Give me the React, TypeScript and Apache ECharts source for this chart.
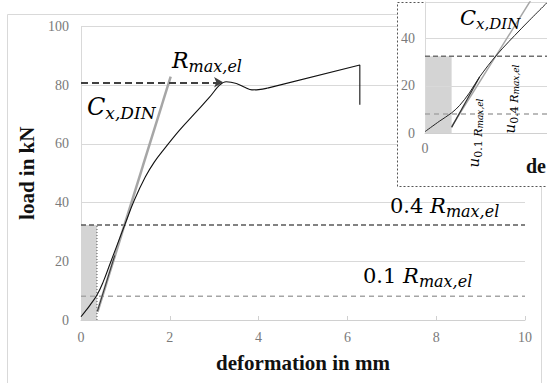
import React, { useEffect, useRef } from "react";
import * as echarts from "echarts";

// ---------- data ----------
const xTicksMain = [0, 2, 4, 6, 8, 10];
const yTicksMain = [0, 20, 40, 60, 80, 100];

const curveX = [0, 0.1, 0.2, 0.36, 0.5, 0.65, 0.8, 1.0, 1.2, 1.45, 1.65, 1.85, 2.22, 2.6, 2.9, 3.12, 3.27, 3.5, 3.7, 3.85, 4.0, 4.2, 6.28, 6.28];
const curveY = [1.1, 3, 5, 8.5, 13, 19, 25, 33, 40.8, 48.8, 53.8, 57.8, 64.7, 71, 76, 80, 81.2, 80.6, 79.2, 78.4, 78.5, 79, 86.9, 73.3];
const SMOOTH_END = 21; // index where the straight tail starts

const stiffLineX = [0.37, 2.02];
const stiffLineY = [2.8, 82.9];
const secantX = [0.37, 0.76];
const secantY = [3, 22];

const R_MAX = 81;
const R_04 = 32.4;
const R_01 = 8.1;
const U_RECT = 0.36;
const RMAX_ARROW_END = 3.2;

const insetCurveX = [0, 0.2, 0.36, 0.47, 0.6, 0.74, 0.97, 1.3, 1.65];
const insetCurveY = [0.7, 5.2, 8.6, 11.8, 17, 23.8, 33, 44, 55];
const insetStiffX = [0.36, 1.45];
const insetStiffY = [2.8, 57];
const insetSecantX = [0.36, 0.74];
const insetSecantY = [2.5, 23.8];
const U_01 = 0.46;
const U_04 = 0.96;
const U_01_LOW = -9;
const U_04_LOW = -3.5;

const zip = (xs: number[], ys: number[]) => xs.map((x, i) => [x, ys[i]]);

const serif = "Liberation Serif";
const mathFont = "DejaVu Serif";

function mathRich(big: number, sub: number) {
  return {
    n: { fontFamily: mathFont, fontSize: big, lineHeight: big + 6, color: "#111" },
    i: { fontFamily: mathFont, fontStyle: "italic", fontSize: big, lineHeight: big + 6, color: "#111" },
    s: { fontFamily: mathFont, fontStyle: "italic", fontSize: sub, lineHeight: sub - 4, verticalAlign: "bottom", color: "#111" },
  };
}

const uRich = {
  u: { fontFamily: mathFont, fontStyle: "italic", fontSize: 15, lineHeight: 20, color: "#111" },
  a: { fontFamily: mathFont, fontSize: 11, lineHeight: 9, verticalAlign: "bottom", color: "#111" },
  b: { fontFamily: mathFont, fontStyle: "italic", fontSize: 11, lineHeight: 9, verticalAlign: "bottom", color: "#111" },
  c: { fontFamily: mathFont, fontStyle: "italic", fontSize: 9, lineHeight: 4, verticalAlign: "bottom", color: "#111" },
};

export default function App() {
  const ref = useRef<HTMLDivElement>(null);
  useEffect(() => {
    if (!ref.current) return;
    const chart = echarts.init(ref.current, undefined, { renderer: "svg" });
    const tickLabel = { fontFamily: serif, fontSize: 14, color: "#7a7a7a" };
    const curvePts = zip(curveX, curveY);
    const option: any = {
      animation: false,
      backgroundColor: "#fff",
      grid: [
        { left: 81, right: 22, top: 26.5, bottom: 63 },
        { left: 425, right: 0, top: 2, bottom: 249.7 },
      ],
      xAxis: [
        {
          type: "value", gridIndex: 0, min: xTicksMain[0], max: xTicksMain[xTicksMain.length - 1], interval: 2,
          axisLine: { show: true, lineStyle: { color: "#d0d0d0" } },
          axisTick: { show: true, inside: true, length: 4, lineStyle: { color: "#d0d0d0" } },
          splitLine: { show: false },
          axisLabel: { ...tickLabel, margin: 10 },
          name: "deformation in mm", nameLocation: "middle", nameGap: 32,
          nameTextStyle: { fontFamily: serif, fontWeight: "bold", fontSize: 21, color: "#111" },
          z: 0,
        },
        {
          type: "value", gridIndex: 1, min: 0, max: 1.65, interval: 2,
          axisLine: { show: true, lineStyle: { color: "#d0d0d0" } },
          axisTick: { show: false },
          splitLine: { show: false },
          axisLabel: { ...tickLabel, margin: 8, showMaxLabel: false },
          z: 2,
        },
      ],
      yAxis: [
        {
          type: "value", gridIndex: 0, min: yTicksMain[0], max: yTicksMain[yTicksMain.length - 1], interval: 20,
          axisLine: { show: true, lineStyle: { color: "#d9d9d9" } },
          axisTick: { show: false },
          splitLine: { show: true, lineStyle: { color: "#d9d9d9" } },
          axisLabel: { ...tickLabel, margin: 12 },
          name: "load in kN", nameLocation: "middle", nameGap: 36,
          nameTextStyle: { fontFamily: serif, fontWeight: "bold", fontSize: 21, color: "#111" },
          z: 0,
        },
        {
          type: "value", gridIndex: 1, min: 0, max: 55.3, interval: 20,
          axisLine: { show: true, lineStyle: { color: "#d9d9d9" } },
          axisTick: { show: false },
          splitLine: { show: true, lineStyle: { color: "#d9d9d9" } },
          axisLabel: { ...tickLabel, margin: 10, showMaxLabel: false },
          z: 2,
        },
      ],
      series: [
        // ---- main ----
        { type: "line", xAxisIndex: 0, yAxisIndex: 0, z: 1, silent: true, symbol: "none",
          data: [[0, R_01], [10, R_01]], lineStyle: { color: "#a5a5a5", width: 1.5, type: [5, 4] } },
        { type: "line", xAxisIndex: 0, yAxisIndex: 0, z: 2, silent: true, symbol: "none", data: [],
          markArea: { silent: true, itemStyle: { color: "#d4d4d4" }, data: [[{ coord: [0, 0] }, { coord: [U_RECT, R_04] }]] } },
        { type: "line", xAxisIndex: 0, yAxisIndex: 0, z: 3, silent: true, symbol: "none",
          data: [[0, R_04], [10, R_04]], lineStyle: { color: "#595959", width: 1.5, type: [5, 3] } },
        { type: "line", xAxisIndex: 0, yAxisIndex: 0, z: 3, silent: true, symbol: "none",
          data: [[U_RECT, 0], [U_RECT, R_04]], lineStyle: { color: "#555", width: 1, type: [1, 2] } },
        { type: "line", xAxisIndex: 0, yAxisIndex: 0, z: 3, silent: true, symbol: "none", data: [],
          markLine: { silent: true, symbol: ["none", "arrow"], symbolSize: [8, 9], label: { show: false },
            lineStyle: { color: "#404040", width: 2, type: [7, 4] },
            data: [[{ coord: [0, R_MAX] }, { coord: [RMAX_ARROW_END, R_MAX] }]] } },
        { type: "line", xAxisIndex: 0, yAxisIndex: 0, z: 4, silent: true, symbol: "none",
          data: zip(stiffLineX, stiffLineY), lineStyle: { color: "#a6a6a6", width: 2.5 } },
        { type: "line", xAxisIndex: 0, yAxisIndex: 0, z: 5, silent: true, symbol: "none",
          data: zip(secantX, secantY), lineStyle: { color: "#333", width: 1 } },
        { type: "line", xAxisIndex: 0, yAxisIndex: 0, z: 5, silent: true, symbol: "none", smooth: 0.4,
          data: curvePts.slice(0, SMOOTH_END + 1), lineStyle: { color: "#111", width: 1.1 } },
        { type: "line", xAxisIndex: 0, yAxisIndex: 0, z: 5, silent: true, symbol: "none",
          data: curvePts.slice(SMOOTH_END), lineStyle: { color: "#111", width: 1.1 } },
        // ---- inset ----
        { type: "line", xAxisIndex: 1, yAxisIndex: 1, z: 6, silent: true, symbol: "none",
          data: [[0, R_01], [1.65, R_01]], lineStyle: { color: "#a5a5a5", width: 1.5, type: [5, 4] } },
        { type: "line", xAxisIndex: 1, yAxisIndex: 1, z: 7, silent: true, symbol: "none", data: [],
          markArea: { silent: true, itemStyle: { color: "#d4d4d4" }, data: [[{ coord: [0, 0] }, { coord: [U_RECT, R_04] }]] } },
        { type: "line", xAxisIndex: 1, yAxisIndex: 1, z: 8, silent: true, symbol: "none",
          data: [[0, R_04], [1.65, R_04]], lineStyle: { color: "#707070", width: 1.5, type: [5, 3] } },
        { type: "line", xAxisIndex: 1, yAxisIndex: 1, z: 8, silent: true, symbol: "none", data: [], clip: false,
          markLine: { silent: true, symbol: ["none", "arrow"], symbolSize: [7, 8], label: { show: false },
            lineStyle: { color: "#9a9a9a", width: 1.5, type: [5, 4] },
            data: [
              [{ coord: [U_01, U_01_LOW] }, { coord: [U_01, R_01] }],
              [{ coord: [U_04, U_04_LOW] }, { coord: [U_04, R_04] }],
            ] } },
        { type: "line", xAxisIndex: 1, yAxisIndex: 1, z: 9, silent: true, symbol: "none",
          data: zip(insetStiffX, insetStiffY), lineStyle: { color: "#a6a6a6", width: 1.5 } },
        { type: "line", xAxisIndex: 1, yAxisIndex: 1, z: 10, silent: true, symbol: "none",
          data: zip(insetSecantX, insetSecantY), lineStyle: { color: "#333", width: 1.2 } },
        { type: "line", xAxisIndex: 1, yAxisIndex: 1, z: 10, silent: true, symbol: "none", smooth: 0.35,
          data: zip(insetCurveX, insetCurveY), lineStyle: { color: "#222", width: 1 } },
      ],
      graphic: [
        { type: "rect", z: -1, silent: true, shape: { x: 7.5, y: 14.5, width: 534, height: 380 },
          style: { fill: "none", stroke: "#d9d9d9", lineWidth: 1 } },
        { type: "rect", z: 1, silent: true, shape: { x: 397.5, y: 2.5, width: 160, height: 184 },
          style: { fill: "#fff", stroke: "#555", lineWidth: 1, lineDash: [2, 2] } },
        { type: "text", z: 20, silent: true, x: 172, y: 74.7,
          style: { text: "{i|R}{s|max,el}", rich: mathRich(22, 16), align: "left", verticalAlign: "bottom" } },
        { type: "text", z: 20, silent: true, x: 87, y: 121.7,
          style: { text: "{i|C}{s|x,DIN}", rich: mathRich(24, 17), align: "left", verticalAlign: "bottom" } },
        { type: "text", z: 20, silent: true, x: 390, y: 219,
          style: { text: "{n|0.4 }{i|R}{s|max,el}", rich: mathRich(21, 16), align: "left", verticalAlign: "bottom" } },
        { type: "text", z: 20, silent: true, x: 363, y: 289.5,
          style: { text: "{n|0.1 }{i|R}{s|max,el}", rich: mathRich(21, 16), align: "left", verticalAlign: "bottom" } },
        { type: "text", z: 20, silent: true, x: 460, y: 31.2,
          style: { text: "{i|C}{s|x,DIN}", rich: mathRich(21, 15), align: "left", verticalAlign: "bottom" } },
        { type: "text", z: 20, silent: true, x: 526, y: 166,
          style: { text: "de", fontFamily: serif, fontWeight: "bold", fontSize: 20, fill: "#111", align: "left", verticalAlign: "middle" } },
        { type: "text", z: 20, silent: true, x: 474, y: 133, rotation: Math.PI / 2,
          style: { text: "{u|u}{a|0.1 }{b|R}{c|max,el}", align: "center", verticalAlign: "middle", rich: uRich } },
        { type: "text", z: 20, silent: true, x: 510, y: 99, rotation: Math.PI / 2,
          style: { text: "{u|u}{a|0.4 }{b|R}{c|max,el}", align: "center", verticalAlign: "middle", rich: uRich } },
      ],
    };
    chart.setOption(option);
    return () => chart.dispose();
  }, []);
  return (
    <div
      ref={ref}
      style={{ position: "fixed", left: 0, top: 0, width: 547, height: 383, background: "#fff" }}
    />
  );
}
